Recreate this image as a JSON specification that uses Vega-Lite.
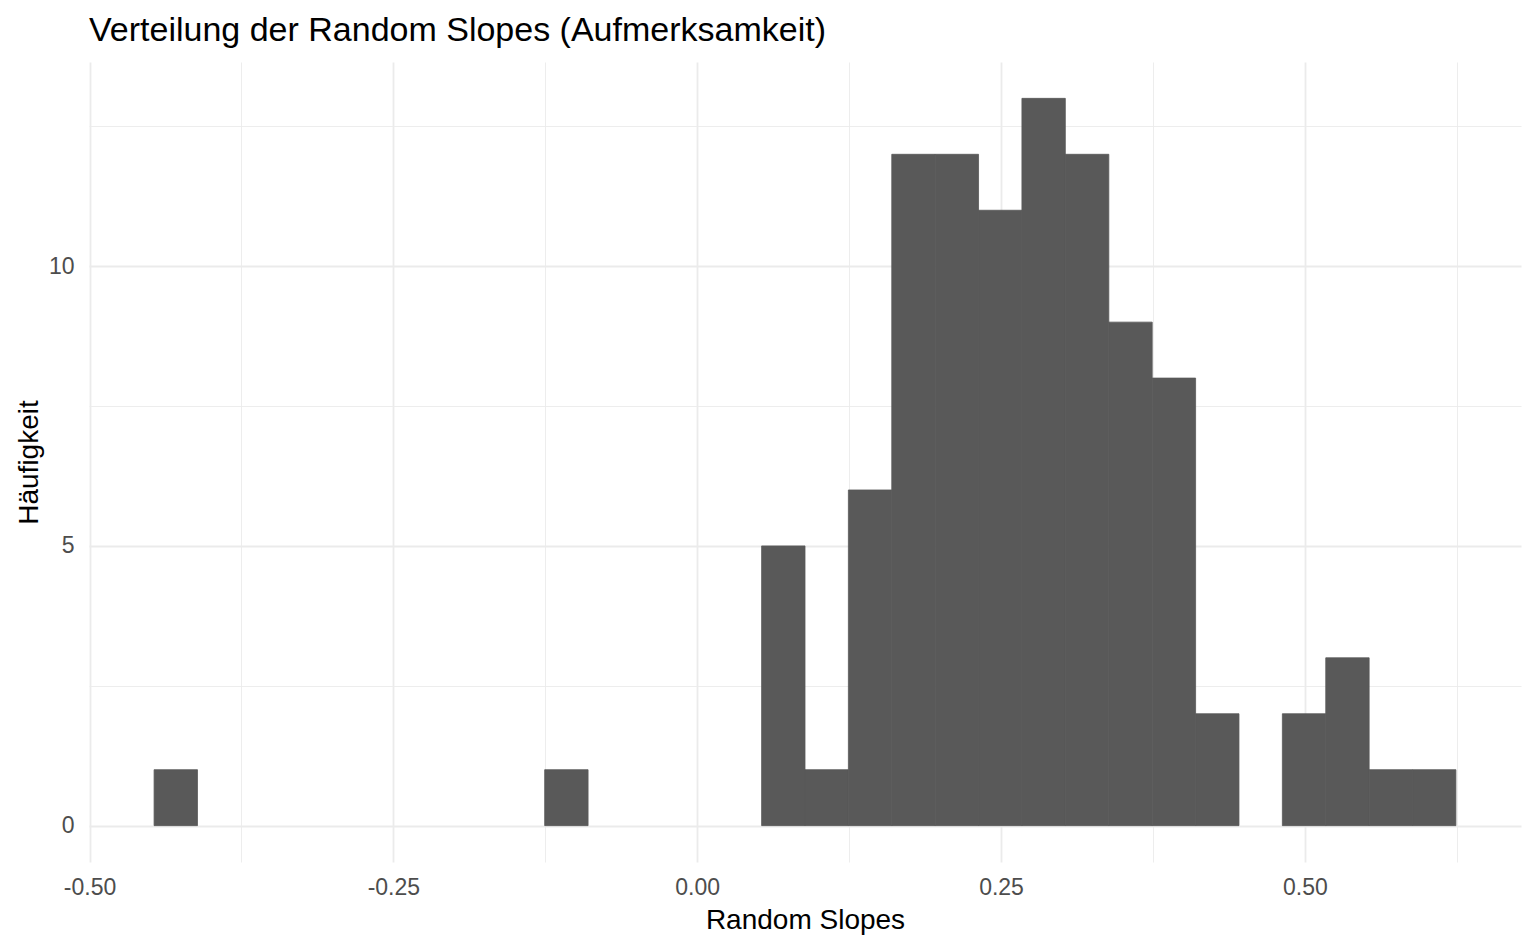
{
  "$schema": "https://vega.github.io/schema/vega-lite/v6.json",
  "width": 1432,
  "height": 800,
  "autosize": {"type": "none"},
  "padding": {"left": 89, "top": 62, "right": 15, "bottom": 87},
  "background": "white",
  "config": {"view": {"stroke": null}, "font": "Liberation Sans"},
  "title": {
    "text": "Verteilung der Random Slopes (Aufmerksamkeit)",
    "anchor": "start",
    "frame": "group",
    "fontSize": 34,
    "fontWeight": "normal",
    "color": "black",
    "baseline": "alphabetic",
    "offset": 21,
    "dy": 34
  },
  "data": {
    "values": [
      {"bin_start": -0.4469, "bin_end": -0.4112, "count": 1},
      {"bin_start": -0.1255, "bin_end": -0.0898, "count": 1},
      {"bin_start": 0.0530, "bin_end": 0.0887, "count": 5},
      {"bin_start": 0.0887, "bin_end": 0.1244, "count": 1},
      {"bin_start": 0.1244, "bin_end": 0.1601, "count": 6},
      {"bin_start": 0.1601, "bin_end": 0.1958, "count": 12},
      {"bin_start": 0.1958, "bin_end": 0.2315, "count": 12},
      {"bin_start": 0.2315, "bin_end": 0.2672, "count": 11},
      {"bin_start": 0.2672, "bin_end": 0.3029, "count": 13},
      {"bin_start": 0.3029, "bin_end": 0.3387, "count": 12},
      {"bin_start": 0.3387, "bin_end": 0.3744, "count": 9},
      {"bin_start": 0.3744, "bin_end": 0.4101, "count": 8},
      {"bin_start": 0.4101, "bin_end": 0.4458, "count": 2},
      {"bin_start": 0.4815, "bin_end": 0.5172, "count": 2},
      {"bin_start": 0.5172, "bin_end": 0.5529, "count": 3},
      {"bin_start": 0.5529, "bin_end": 0.5886, "count": 1},
      {"bin_start": 0.5886, "bin_end": 0.6243, "count": 1}
    ]
  },
  "mark": {"type": "rect", "color": "#595959", "stroke": "#595959", "strokeWidth": 0.8},
  "encoding": {
    "x": {
      "field": "bin_start",
      "type": "quantitative",
      "title": "Random Slopes",
      "scale": {"domain": [-0.50046, 0.67786], "nice": false, "zero": false},
      "axis": {
        "values": [-0.5, -0.375, -0.25, -0.125, 0, 0.125, 0.25, 0.375, 0.5, 0.625],
        "labelExpr": "abs(datum.value * 4 - round(datum.value * 4)) < 0.001 ? replace(format(datum.value, '.2f'), '\u2212', '-') : ''",
        "gridColor": "#EBEBEB",
        "gridWidth": {"condition": {"test": "abs(datum.value * 4 - round(datum.value * 4)) < 0.001", "value": 1.8}, "value": 0.9},
        "ticks": false,
        "domain": false,
        "labelFontSize": 23,
        "labelColor": "#4D4D4D",
        "labelPadding": 14,
        "labelOverlap": false,
        "labelFlush": false,
        "titleFontSize": 28,
        "titleFontWeight": "normal",
        "titleColor": "black",
        "titleBaseline": "alphabetic",
        "titleY": 66
      }
    },
    "x2": {"field": "bin_end"},
    "y": {
      "field": "count",
      "type": "quantitative",
      "title": "Häufigkeit",
      "scale": {"domain": [-0.65, 13.65], "nice": false, "zero": false},
      "axis": {
        "values": [0, 2.5, 5, 7.5, 10, 12.5],
        "labelExpr": "datum.value % 5 == 0 ? datum.label : ''",
        "gridColor": "#EBEBEB",
        "gridWidth": {"condition": {"test": "datum.value % 5 == 0", "value": 1.8}, "value": 0.9},
        "ticks": false,
        "domain": false,
        "labelFontSize": 23,
        "labelColor": "#4D4D4D",
        "labelPadding": 15,
        "labelOverlap": false,
        "labelFlush": false,
        "titleFontSize": 28,
        "titleFontWeight": "normal",
        "titleColor": "black",
        "titleAngle": 270,
        "titleAlign": "center",
        "titleBaseline": "alphabetic",
        "titleX": -52,
        "titleY": 400
      }
    },
    "y2": {"datum": 0}
  }
}
